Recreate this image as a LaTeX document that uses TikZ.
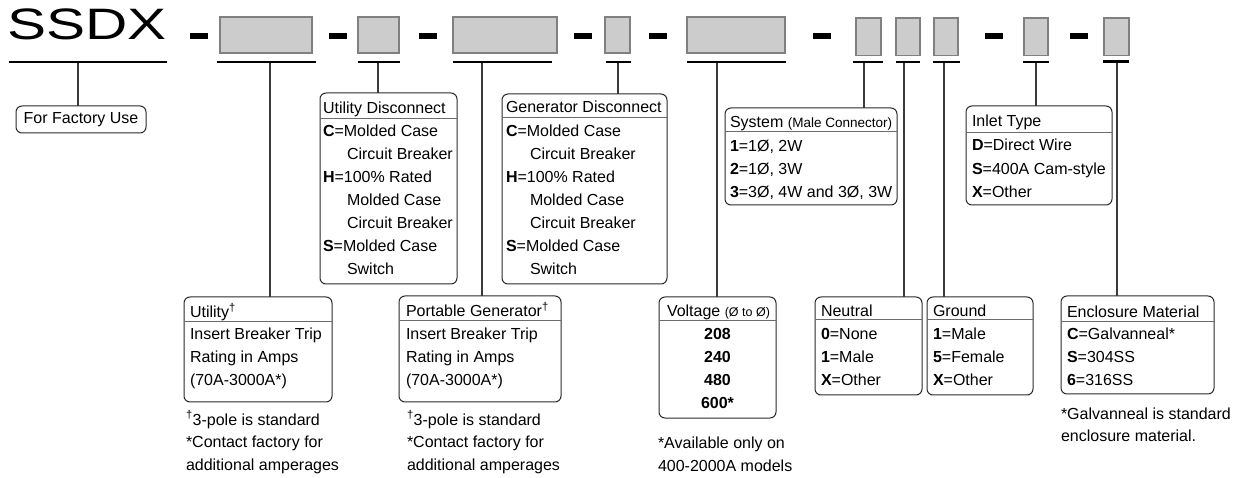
\documentclass[tikz,border=0pt]{standalone}
\usepackage{fontspec}
\setmainfont{Liberation Sans}
\usepackage{graphicx}
\definecolor{codefill}{HTML}{CCCCCC}
\definecolor{codeline}{HTML}{808080}
\definecolor{connline}{HTML}{3A3A3A}
\definecolor{boxline}{HTML}{2A2A2A}
\definecolor{sepline}{HTML}{6A6A6A}
\tikzset{
 codebox/.style={draw=codeline, fill=codefill, line width=1.4pt, inner sep=0, outer sep=0, anchor=north west},
 dashbar/.style={fill=black, inner sep=0, outer sep=0, minimum width=18, minimum height=6, anchor=west},
 uline/.style={line width=2.6pt},
 conn/.style={draw=connline, line width=1.1pt},
 ibox/.style={draw=boxline, line width=1pt, rounded corners=6pt, inner sep=0, outer sep=0, anchor=north west},
 sepl/.style={draw=sepline, line width=1pt},
 txt/.style={inner sep=0, outer sep=0, anchor=base west, font=\fontsize{16}{19}\selectfont},
 ctxt/.style={txt, anchor=base},
}
\newcommand{\rowind}{\hspace*{24pt}}
\newcommand{\ibx}[6]{%
 \node[ibox, minimum width=#4, minimum height=#5] (#1) at (#2,#3) {};
 \draw[sepl] (#1.west |- 0,#6) -- (#1.east |- 0,#6);}
\newcommand{\tl}[5]{\foreach \t [count=\i from 0] in {#5} {\node[txt] (#1-\i) at ({#2},{#3+\i*#4}) {\t};}}
\begin{document}
\begin{tikzpicture}[x=1pt,y=-1pt]
\useasboundingbox (0,0) rectangle (1235,478);
% ---- top code row
\node[inner sep=0, outer sep=0, anchor=base west] (ssdx) at (7,40) {\scalebox{1.33}[1]{\fontsize{44}{48}\selectfont SSDX}};
\node[dashbar] (d1) at (190,36) {};
\node[dashbar] (d2) at (328.5,36) {};
\node[dashbar] (d3) at (418.5,36) {};
\node[dashbar] (d4) at (573.5,36) {};
\node[dashbar] (d5) at (649,36) {};
\node[dashbar] (d6) at (813,36) {};
\node[dashbar] (d7) at (985,36) {};
\node[dashbar] (d8) at (1070,36) {};
\node[codebox, minimum width=92, minimum height=36] (b1) at (220,17) {};
\node[codebox, minimum width=41, minimum height=36] (b2) at (358,17) {};
\node[codebox, minimum width=104, minimum height=36] (b3) at (453,17) {};
\node[codebox, minimum width=25, minimum height=36] (b4) at (605,17) {};
\node[codebox, minimum width=98, minimum height=36] (b5) at (687,17) {};
\node[codebox, minimum width=25, minimum height=37.5] (b6) at (856,18) {};
\node[codebox, minimum width=24, minimum height=37.5] (b7) at (896,18) {};
\node[codebox, minimum width=24, minimum height=37.5] (b8) at (934,18) {};
\node[codebox, minimum width=24, minimum height=37.5] (b9) at (1024,18) {};
\node[codebox, minimum width=25, minimum height=37.5] (b10) at (1104,18) {};
% underlines
\draw[uline] (9,62) -- (167,62);
\draw[uline] (217,62) -- (316,62);
\draw[uline] (358,62) -- (400,62);
\draw[uline] (453,62) -- (552,62);
\draw[uline] (606,62) -- (631,62);
\draw[uline] (687,62) -- (786,62);
\draw[uline] (853,62) -- (883,62);
\draw[uline] (896,62) -- (920,62);
\draw[uline] (933,62) -- (960,62);
\draw[uline] (1023,62) -- (1049,62);
\draw[uline] (1103,61.5) -- (1129,61.5);
% connector start points
\coordinate (c0) at (78,63);
\coordinate (c1) at (270,63);
\coordinate (c2) at (378,63);
\coordinate (c3) at (482,63);
\coordinate (c4) at (618,63);
\coordinate (c5) at (717,63);
\coordinate (c6) at (864,63);
\coordinate (c7) at (904,63);
\coordinate (c8) at (944,63);
\coordinate (c9) at (1036,63);
\coordinate (c10) at (1117,63);
% ---- info boxes
\node[ibox, minimum width=130, minimum height=27, font=\fontsize{16}{19}\selectfont] (fact) at (16,106) {For Factory Use};
% utility disconnect
\ibx{udisc}{320}{93}{137}{191}{119}
\node[txt] (udisc-h) at (323,114) {Utility Disconnect};
\tl{udisc}{323}{137}{23}{{\textbf{C}=Molded Case},{\rowind Circuit Breaker},{\textbf{H}=100\% Rated},{\rowind Molded Case},{\rowind Circuit Breaker},{\textbf{S}=Molded Case},{\rowind Switch}}
% generator disconnect
\ibx{gdisc}{502}{94}{165}{190}{118}
\node[txt] (gdisc-h) at (506,113) {Generator Disconnect};
\tl{gdisc}{506}{137}{23}{{\textbf{C}=Molded Case},{\rowind Circuit Breaker},{\textbf{H}=100\% Rated},{\rowind Molded Case},{\rowind Circuit Breaker},{\textbf{S}=Molded Case},{\rowind Switch}}
% system
\ibx{sys}{725}{108}{172}{97}{132}
\node[txt] (sys-h) at (730,128) {System {\fontsize{13.5}{16}\selectfont(Male Connector)}};
\tl{sys}{730}{152}{23}{{\textbf{1}=1Ø, 2W},{\textbf{2}=1Ø, 3W},{\textbf{3}=3Ø, 4W and 3Ø, 3W}}
% inlet
\ibx{inlet}{966}{106}{146}{99}{133}
\node[txt] (inlet-h) at (972,127) {Inlet Type};
\tl{inlet}{972}{151}{23.5}{{\textbf{D}=Direct Wire},{\textbf{S}=400A Cam-style},{\textbf{X}=Other}}
% utility breaker
\ibx{util}{184}{297}{148}{105}{322}
\node[txt] (util-h) at (190,318) {Utility\textsuperscript{†}};
\tl{util}{190}{340}{22.5}{{Insert Breaker Trip},{Rating in Amps},{(70A-3000A*)}}
% portable generator
\ibx{pgen}{399}{296}{162}{106}{321}
\node[txt] (pgen-h) at (406,317) {Portable Generator\textsuperscript{†}};
\tl{pgen}{406}{340}{22.5}{{Insert Breaker Trip},{Rating in Amps},{(70A-3000A*)}}
% voltage
\ibx{volt}{659}{297}{117}{121}{321}
\node[txt] (volt-h) at (667,317) {Voltage {\fontsize{12.5}{15}\selectfont(Ø to Ø)}};
\foreach \t [count=\i from 0] in {208,240,480,600*} {\node[ctxt] (volt-\i) at ({717.5},{340+\i*22.7}) {\textbf{\t}};}
% neutral
\ibx{neut}{815}{297}{107}{98}{320}
\node[txt] (neut-h) at (821,317) {Neutral};
\tl{neut}{821}{340}{22.5}{{\textbf{0}=None},{\textbf{1}=Male},{\textbf{X}=Other}}
% ground
\ibx{grnd}{927}{297}{106}{98}{320}
\node[txt] (grnd-h) at (933,317) {Ground};
\tl{grnd}{933}{340}{22.5}{{\textbf{1}=Male},{\textbf{5}=Female},{\textbf{X}=Other}}
% enclosure
\ibx{encl}{1061}{296}{153}{98}{322}
\node[txt] (encl-h) at (1067,318) {Enclosure Material};
\tl{encl}{1067}{340}{22.5}{{\textbf{C}=Galvanneal*},{\textbf{S}=304SS},{\textbf{6}=316SS}}
% ---- footnotes
\tl{fnu}{186}{425}{22.5}{{\textsuperscript{†}3-pole is standard},{*Contact factory for},{additional amperages}}
\tl{fng}{407}{425}{22.5}{{\textsuperscript{†}3-pole is standard},{*Contact factory for},{additional amperages}}
\tl{fnv}{658}{448}{23.5}{{*Available only on},{400-2000A models}}
\tl{fne}{1061}{419}{22.5}{{*Galvanneal is standard},{enclosure material.}}
% ---- connectors
\draw[conn] (c0) -- (c0 |- fact.north);
\draw[conn] (c1) -- (c1 |- util.north);
\draw[conn] (c2) -- (c2 |- udisc.north);
\draw[conn] (c3) -- (c3 |- pgen.north);
\draw[conn] (c4) -- (c4 |- gdisc.north);
\draw[conn] (c5) -- (c5 |- volt.north);
\draw[conn] (c6) -- (c6 |- sys.north);
\draw[conn] (c7) -- (c7 |- neut.north);
\draw[conn] (c8) -- (c8 |- grnd.north);
\draw[conn] (c9) -- (c9 |- inlet.north);
\draw[conn] (c10) -- (c10 |- encl.north);
\end{tikzpicture}
\end{document}
